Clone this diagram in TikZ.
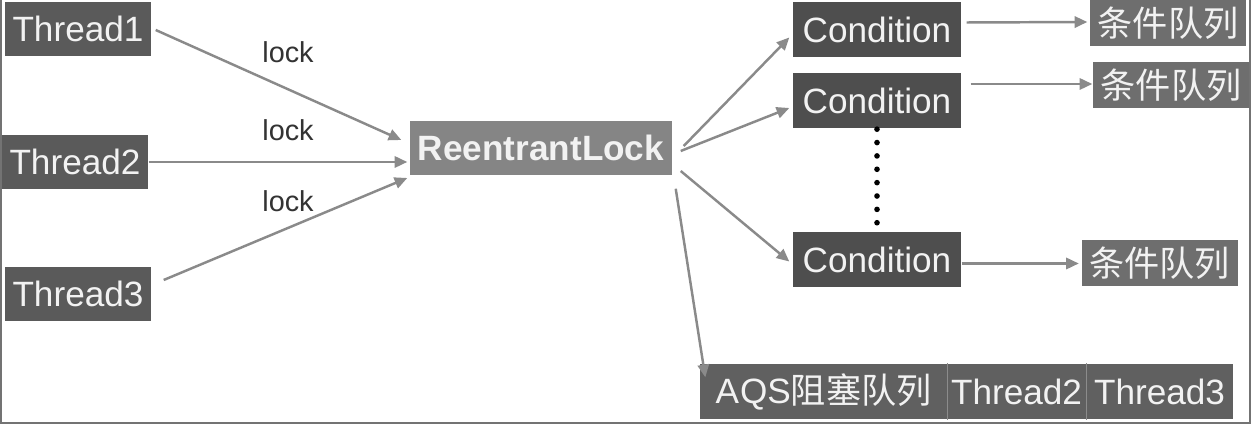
\documentclass[tikz,border=0pt]{standalone}
\usepackage{fontspec}
\setmainfont{Liberation Sans}
\newfontfamily\cjk{Noto Sans CJK SC}
\usetikzlibrary{calc,arrows.meta}

\definecolor{thrdgray}{HTML}{5A5A5A}
\definecolor{condgray}{HTML}{4E4E4E}
\definecolor{lockgray}{HTML}{858585}
\definecolor{queuegray}{HTML}{6E6E6E}
\definecolor{aqsgray}{HTML}{606060}
\definecolor{arrgray}{HTML}{8A8A8A}
\definecolor{boxtext}{HTML}{F2F2F2}

\tikzset{
  box/.style={inner sep=0pt, text=boxtext, font=\fontsize{10}{12}\selectfont},
  thrd/.style={box, fill=thrdgray, minimum width=146*0.01cm, minimum height=54*0.01cm},
  lockbox/.style={box, fill=lockgray, font=\fontsize{10}{12}\selectfont\bfseries, minimum width=262*0.01cm, minimum height=54*0.01cm},
  condbox/.style={box, fill=condgray, minimum width=168*0.01cm, minimum height=55*0.01cm},
  queuebox/.style={box, fill=queuegray, font=\fontsize{10}{12}\selectfont\cjk, minimum width=156*0.01cm, minimum height=46*0.01cm},
  aqsbox/.style={box, fill=aqsgray, minimum height=55*0.01cm},
  arr/.style={draw=arrgray, line width=0.7pt, -{Triangle[length=3.6pt,width=3.2pt]}},
  lbl/.style={text=black!80, font=\fontsize{8.2}{10}\selectfont}
}

\begin{document}
\begin{tikzpicture}[x=0.01cm, y=-0.01cm]
  \useasboundingbox (0,0) rectangle (1252,425);
  \draw[color=black!55, line width=0.5pt] (1,0) -- (1,423) -- (1250,423) -- (1250,0);

  % threads
  \node[thrd] (T1) at (78, 29) {Thread1};
  \node[thrd] (T2) at (75, 162) {Thread2};
  \node[thrd] (T3) at (78, 294) {Thread3};

  \node[lockbox] (RL) at (541, 148) {ReentrantLock};

  % conditions
  \node[condbox] (C1) at (877, 29.5) {Condition};
  \node[condbox] (C2) at (877, 101) {Condition};
  \node[condbox] (C3) at (877, 259.5) {Condition};

  \node[queuebox] (Q1) at (1168, 23) {条件队列};
  \node[queuebox] (Q2) at (1171, 85) {条件队列};
  \node[queuebox] (Q3) at (1159.5, 263.5) {条件队列};

  % blocking queue
  \node[aqsbox, minimum width=247*0.01cm] (AQS) at (823.5, 391.5) {A\kern0.3pt QS{\cjk 阻塞队列}};
  \node[aqsbox, minimum width=139*0.01cm] (B2) at (1016.5, 391.5) {Thread2};
  \node[aqsbox, minimum width=147*0.01cm] (B3) at (1159.5, 391.5) {Thread3};
  \draw[black!45, line width=0.3pt] (AQS.north east) -- (AQS.south east);
  \draw[black!45, line width=0.3pt] (B2.north east) -- (B2.south east);

  \node[lbl] (lk1) at (288, 52) {lock};
  \node[lbl] (lk2) at (288, 130) {lock};
  \node[lbl] (lk3) at (288, 201) {lock};

  \draw[arr] ($(T1.east)+(4,1)$) -- ($(RL.west)+(-8,-8)$);
  \draw[arr] (T2.east) -- ($(RL.west)+(-2,14)$);
  \draw[arr] ($(T3.east)+(12,-14)$) -- ($(RL.west)+(-2,30)$);

  \draw[arr] ($(RL.east)+(11,-2)$) -- ($(C1.west)+(-3,8)$);
  \draw[arr] ($(RL.east)+(8,3)$) -- ($(C2.west)+(-3,7)$);
  \draw[arr] ($(RL.east)+(8,23)$) -- ($(C3.west)+(-3,2)$);
  \draw[arr] ($(RL.south east)+(3,13)$) -- ($(AQS.north west)+(6,14)$);

  \draw[arr] ($(C1.east)+(5,-7)$) -- ($(Q1.west)+(-2,-1)$);
  \draw[arr] ($(C2.east)+(9,-17)$) -- ($(Q2.west)+(0,-1)$);
  \draw[arr] ($(C3.east)+(0,4)$) -- ($(Q3.west)+(-2,0)$);

  \draw[black, line width=1.6pt, line cap=round, dash pattern=on 0pt off 3.8pt] (C2.south) -- (C3.north);
\end{tikzpicture}
\end{document}
